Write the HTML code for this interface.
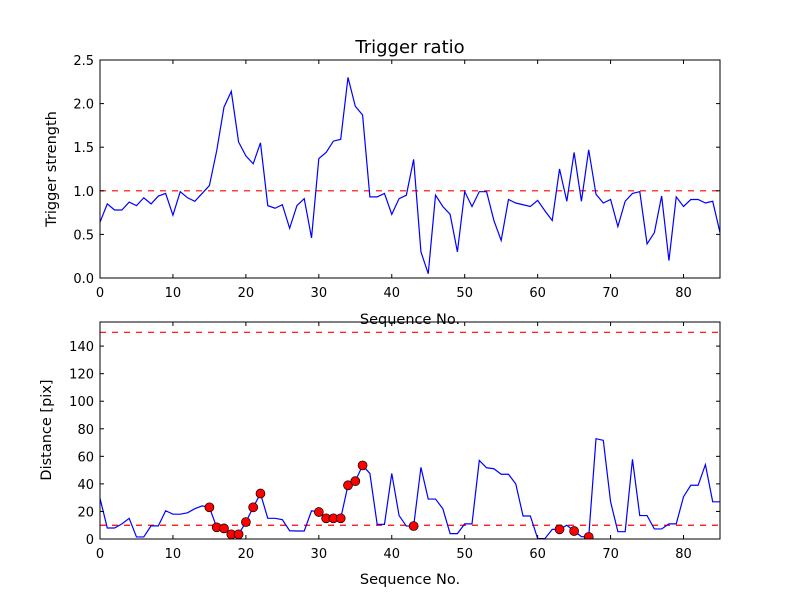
<!DOCTYPE html>
<html><head><meta charset="utf-8"><style>
body{margin:0;background:#fff}
svg{display:block;font-family:"DejaVu Sans","Liberation Sans",sans-serif}
</style></head><body>
<svg id="chart" width="800" height="600" xmlns="http://www.w3.org/2000/svg">
<rect width="800" height="600" fill="#fff"/>
</svg>
<script>
const ratioValues=[0.64,0.85,0.78,0.78,0.87,0.83,0.92,0.85,0.94,0.97,0.72,0.99,0.92,0.88,0.97,1.06,1.46,1.96,2.14,1.56,1.40,1.31,1.55,0.83,0.80,0.84,0.57,0.83,0.91,0.46,1.37,1.44,1.57,1.59,2.30,1.97,1.87,0.93,0.93,0.97,0.73,0.91,0.95,1.36,0.30,0.05,0.95,0.82,0.73,0.30,0.99,0.82,0.99,0.99,0.66,0.43,0.90,0.86,0.84,0.82,0.89,0.77,0.66,1.25,0.88,1.44,0.88,1.47,0.96,0.86,0.90,0.59,0.88,0.97,0.99,0.39,0.52,0.94,0.20,0.93,0.82,0.90,0.90,0.86,0.88,0.52];
const distValues=[29.5,8,8,11,15,1.5,1.5,9.5,9.5,20.5,18,18,19,22,24,23,8.5,7.7,3.4,3.4,12.3,23,33,15,15,14,6,5.8,5.8,20.5,19.6,15,15,15,39,42,53.4,47.6,10.6,10.6,47.6,17,9.4,9.4,52,29,29,22,3.9,3.9,11,11,57,51.7,51,47,47,40,16.7,16.7,0.3,0.3,7,7,10,5.8,1.7,1.5,72.8,71.6,27,5.3,5.3,57.8,17,17,7.3,7.3,11,11,30.7,39,39,54,27,27];
const flaggedIdx=[15,16,17,18,19,20,21,22,30,31,32,33,34,35,36,43,63,65,67];
const xTicks=[0,10,20,30,40,50,60,70,80];
const ratioTicks=[0,0.5,1,1.5,2,2.5];
const ratioTickLabels=["0.0","0.5","1.0","1.5","2.0","2.5"];
const distTicks=[0,20,40,60,80,100,120,140];
const ratioThreshold=1.0;
const distThresholds=[10,150];

const NS="http://www.w3.org/2000/svg";
const svg=document.getElementById('chart');
function mk(tag,attrs,parent){const e=document.createElementNS(NS,tag);for(const k in attrs)e.setAttribute(k,attrs[k]);(parent||svg).appendChild(e);return e;}
const L=100,R=720;
const X=v=>L+(v-0)/85*(R-L);
const Y1=v=>278-(v/2.5)*(278-60);
const Y2=v=>539-(v/157.5)*(539-322);

function drawAxes(top,bottom,Y,yt,ytl,name){
  const g=mk('g',{});
  
  
  xTicks.forEach(t=>{
    const x=X(t);
    mk('line',{x1:x,x2:x,y1:bottom,y2:bottom-4,stroke:'#000'},g);
    mk('line',{x1:x,x2:x,y1:top,y2:top+4,stroke:'#000'},g);
    const tx=mk('text',{x:x,y:bottom+19,'text-anchor':'middle','font-size':13},g);
    tx.textContent=t;
    
    
  });
  yt.forEach((t,i)=>{
    const y=Y(t);
    mk('line',{x1:L,x2:L+4,y1:y,y2:y,stroke:'#000'},g);
    mk('line',{x1:R,x2:R-4,y1:y,y2:y,stroke:'#000'},g);
    const tx=mk('text',{x:L-6,y:y+5,'text-anchor':'end','font-size':13},g);
    tx.textContent=ytl[i];
    
    
  });
}
function drawLine(vals,Y,name){
  const p=mk('polyline',{points:vals.map((v,i)=>X(i)+','+Y(v)).join(' '),fill:'none',stroke:'#0000ff','stroke-width':1.2});
  
  
}
function hline(v,Y,name){
  const l=mk('line',{x1:L,x2:R,y1:Y(v),y2:Y(v),stroke:'#ff0000','stroke-width':1.2,'stroke-dasharray':'6,6'});
  
  
}
function frame(top,bottom,name){
  const r=mk('rect',{x:L,y:top,width:R-L,height:bottom-top,fill:'none',stroke:'#000','stroke-width':1});
  
  
}
function text(x,y,s,size,name,rot){
  const t=mk('text',{x:x,y:y,'text-anchor':'middle','font-size':size});
  if(rot)t.setAttribute('transform','rotate(-90 '+x+' '+y+')');
  t.textContent=s;
  
  
}

const clip2=mk('clipPath',{id:'c2'});mk('rect',{x:L,y:322,width:R-L,height:217},clip2);
hline(ratioThreshold,Y1,'ratio-threshold-line');
drawLine(ratioValues,Y1,'trigger-strength-line');
drawAxes(60,278,Y1,ratioTicks,ratioTickLabels,'top');
frame(60,278,'top-plot-frame');
text(410,53,'Trigger ratio',18,'chart-title');
text(410,324,'Sequence No.',14.5,'top-x-axis-title');
text(56,169,'Trigger strength',14.5,'top-y-axis-title',true);

distThresholds.forEach((v,i)=>hline(v,Y2,'distance-threshold-line-'+i));
drawLine(distValues,Y2,'distance-line');
const mg=mk('g',{'clip-path':'url(#c2)'});


flaggedIdx.forEach(i=>{
  const c=mk('circle',{cx:X(i),cy:Y2(distValues[i]),r:4.5,fill:'#ff0000',stroke:'#000','stroke-width':0.7},mg);
  
  
});
drawAxes(322,539,Y2,distTicks,distTicks.map(String),'bottom');
frame(322,539,'bottom-plot-frame');
text(410,584,'Sequence No.',14.5,'bottom-x-axis-title');
text(51,430,'Distance [pix]',14.5,'bottom-y-axis-title',true);
</script>
</body></html>
